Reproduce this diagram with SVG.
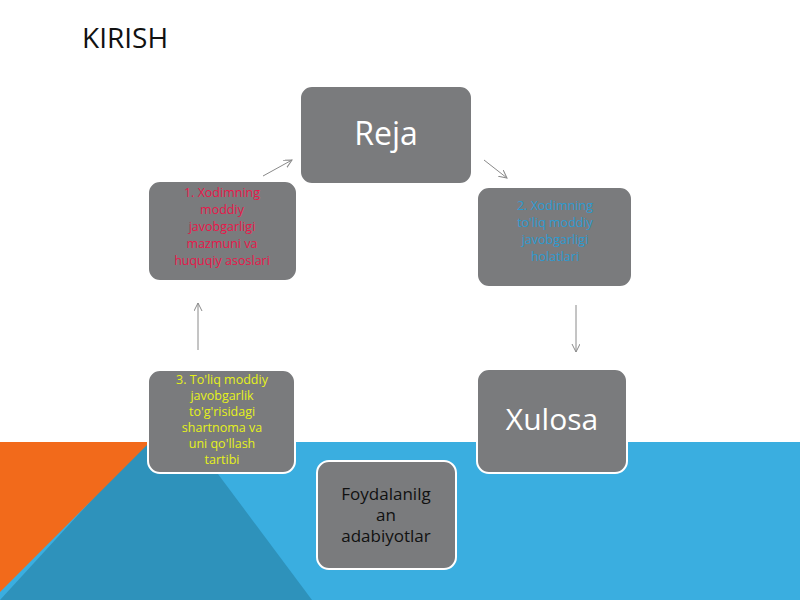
<svg xmlns="http://www.w3.org/2000/svg" width="800" height="600" viewBox="0 0 800 600">
<style>
.box{fill:#7a7b7d;stroke:#ffffff;stroke-width:2}
.t{font-family:"Open Sans","Noto Sans",sans-serif;text-anchor:middle}
.s{font-size:12.5px}
.c{stroke:#8a8a8a;stroke-width:1;fill:none;marker-end:url(#a)}
</style>
<defs><marker id="a" markerWidth="10" markerHeight="10" refX="8" refY="4" orient="auto" markerUnits="userSpaceOnUse"><path d="M0,0 L8,4 L0,8" fill="none" stroke="#8a8a8a"/></marker></defs>
<rect width="800" height="600" fill="#ffffff"/>
<rect x="0" y="442" width="800" height="158" fill="#3aaee0"/>
<polygon points="145,442 215,470 312,600 0,600" fill="#2e92bb"/>
<polygon points="0,442 150,442 0,592" fill="#f26a1b"/>
<text x="82" y="48" font-family="'Open Sans','Noto Sans',sans-serif" font-size="28" fill="#111">KIRISH</text>
<g id="connectors">
<path class="c" d="M263,176 L292,160"/>
<path class="c" d="M484,160 L507,178"/>
<path class="c" d="M576,305 L576,352"/>
<path class="c" d="M198,350 L198,303"/>
</g>
<g id="reja"><rect class="box" x="300" y="86" width="172" height="98" rx="12"/><text class="t" x="386" y="145" font-size="32" fill="#fff">Reja</text></g>
<g id="n1"><rect class="box" x="148" y="181" width="149" height="100" rx="12"/>
<text class="t s" fill="#e8174a"><tspan x="222" y="197">1. Xodimning</tspan><tspan x="222" y="214">moddiy</tspan><tspan x="222" y="231">javobgarligi</tspan><tspan x="222" y="248">mazmuni va</tspan><tspan x="222" y="265">huquqiy asoslari</tspan></text></g>
<g id="n2"><rect class="box" x="477" y="187" width="155" height="100" rx="12"/>
<text class="t s" fill="#2c9ad0"><tspan x="555" y="210">2. Xodimning</tspan><tspan x="555" y="227">to'liq moddiy</tspan><tspan x="555" y="244">javobgarligi</tspan><tspan x="555" y="261">holatlari</tspan></text></g>
<g id="n3"><rect class="box" x="148" y="370" width="147" height="103" rx="12"/>
<text class="t s" fill="#e6f21a"><tspan x="222" y="384">3. To'liq moddiy</tspan><tspan x="222" y="400">javobgarlik</tspan><tspan x="222" y="416">to'g'risidagi</tspan><tspan x="222" y="432">shartnoma va</tspan><tspan x="222" y="448">uni qo'llash</tspan><tspan x="222" y="464">tartibi</tspan></text></g>
<g id="xulosa"><rect class="box" x="477" y="369" width="150" height="104" rx="12"/><text class="t" x="552" y="430" font-size="30" fill="#fff">Xulosa</text></g>
<g id="foyda"><rect class="box" x="317" y="461" width="139" height="108" rx="12"/>
<text class="t" font-size="17" fill="#111"><tspan x="386" y="500">Foydalanilg</tspan><tspan x="386" y="521">an</tspan><tspan x="386" y="542">adabiyotlar</tspan></text></g>
</svg>
